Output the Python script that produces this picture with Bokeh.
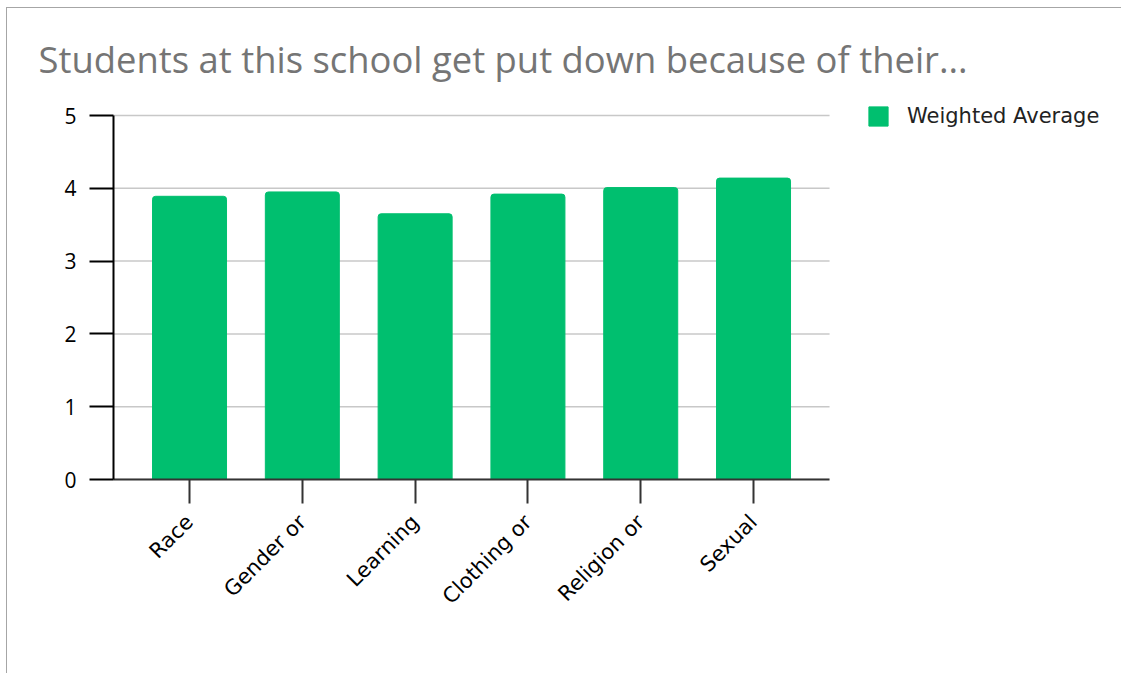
from bokeh.plotting import figure
from bokeh.models import Range1d, FixedTicker, Legend, LegendItem, ColumnDataSource
from bokeh.embed import file_html
from bokeh.resources import INLINE
import math

# ---- data ----
categories = ["Race", "Gender or", "Learning", "Clothing or", "Religion or", "Sexual"]
weighted_average = [3.89, 3.95, 3.65, 3.92, 4.01, 4.14]
series_name = "Weighted Average"
title_text = "Students at this school get put down because of their..."
y_ticks = [0, 1, 2, 3, 4, 5]

GREEN = "#00bf6f"
FONT = "Open Sans"
LABEL_FONT = "DejaVu Sans"

positions = list(range(len(categories)))
source = ColumnDataSource(dict(x=positions, top=weighted_average, cat=categories))

# plot-area geometry (pixels)
PX_PER_CAT = 112.8
PX_PER_UNIT = 72.8
FRAME_W = 998
FRAME_H = 384
X0 = -0.674
x_start, x_end = X0, X0 + FRAME_W / PX_PER_CAT
axis_x_end = len(categories) - 1 + 0.674
y_max = max(y_ticks)
y_end = FRAME_H / PX_PER_UNIT

p = figure(frame_width=FRAME_W, frame_height=FRAME_H, output_backend="svg",
           toolbar_location=None,
           x_range=Range1d(x_start, x_end), y_range=Range1d(0, y_end),
           min_border_left=106, min_border_right=10, min_border_top=87,
           min_border_bottom=194, title=title_text)
p.styles = {"border-top": "1px solid #a6a6a6", "border-left": "1px solid #a6a6a6",
            "margin-left": "6px", "margin-top": "7px"}

p.title.text_font = FONT
p.title.text_font_size = "36.4px"
p.title.text_font_style = "normal"
p.title.text_color = "#757575"
p.title.align = "left"
p.title.offset = -75
p.title.standoff = 24

# horizontal grid lines, spanning only the category area
p.segment(x0=[X0] * len(y_ticks), x1=[axis_x_end] * len(y_ticks), y0=y_ticks, y1=y_ticks,
          line_color="#c8c8c8", line_width=1.5)

r = p.vbar(x="x", top="top", width=0.656, source=source, color=GREEN,
           border_radius=(3, 3, 0, 0))

p.outline_line_color = None
p.background_fill_color = "white"
p.border_fill_color = "white"
p.xgrid.grid_line_color = None
p.ygrid.grid_line_color = None

ya = p.yaxis[0]
ya.ticker = FixedTicker(ticks=y_ticks)
ya.bounds = (0, y_max)
ya.axis_line_color = "black"
ya.axis_line_width = 2
ya.major_tick_line_color = "black"
ya.major_tick_line_width = 2
ya.major_tick_out = 24
ya.major_tick_in = 0
ya.minor_tick_line_color = None
ya.major_label_text_font = FONT
ya.major_label_text_font_size = "21px"
ya.major_label_text_color = "black"
ya.major_label_standoff = 13

xa = p.xaxis[0]
xa.ticker = FixedTicker(ticks=positions)
xa.bounds = (X0, axis_x_end)
xa.major_label_overrides = {i: c for i, c in zip(positions, categories)}
xa.axis_line_color = "#333333"
xa.axis_line_width = 2
xa.major_tick_line_color = "#333333"
xa.major_tick_line_width = 2
xa.major_tick_out = 24
xa.major_tick_in = 0
xa.minor_tick_line_color = None
xa.major_label_text_font = LABEL_FONT
xa.major_label_text_font_size = "21px"
xa.major_label_text_color = "black"
xa.major_label_orientation = math.pi / 4
xa.major_label_standoff = 15

legend = Legend(items=[LegendItem(label=series_name, renderers=[r])],
                location=(753, 351), orientation="vertical",
                label_text_font=LABEL_FONT, label_text_font_size="21px",
                label_text_color="#222222", glyph_width=24, glyph_height=24,
                label_height=24, label_standoff=17, padding=0, margin=0,
                border_line_color=None, background_fill_alpha=0)
p.add_layout(legend, "center")

open("out.html", "w").write(file_html(p, INLINE))
